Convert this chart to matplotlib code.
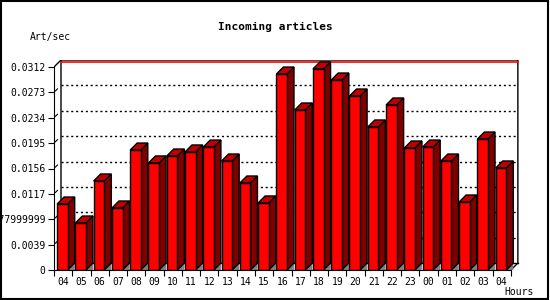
import matplotlib
matplotlib.use("Agg")
import matplotlib.pyplot as plt
from matplotlib.patches import Polygon, Rectangle

# hours on the x axis and the rate per hour
hours = ["04", "05", "06", "07", "08", "09", "10", "11", "12", "13", "14", "15",
         "16", "17", "18", "19", "20", "21", "22", "23", "00", "01", "02", "03", "04"]
rates = [0.01014, 0.00722, 0.01368, 0.00953, 0.01844, 0.01645, 0.01752, 0.01814,
         0.01890, 0.01675, 0.01337, 0.01030, 0.03012, 0.02459, 0.03090, 0.02920,
         0.02674, 0.02198, 0.02536, 0.01875, 0.01890, 0.01675, 0.01045, 0.02013,
         0.01568]
yticks = [0, 0.0039, 0.0078, 0.0117, 0.0156, 0.0195, 0.0234, 0.0273, 0.0312]
ytick_labels = ["0", "0.0039", "0.0077999999", "0.0117", "0.0156", "0.0195",
                "0.0234", "0.0273", "0.0312"]
ymax = 0.0312

mono = "DejaVu Sans Mono"
fig = plt.figure(figsize=(5.5, 3), dpi=100)
fig.patch.set_facecolor("white")

n = len(rates)
# axes: front plane, 0 at y=270px, 0.0312 at y=67px
ax = fig.add_axes([54 / 550, 30 / 300, 466 / 550, 210 / 300])
ax.set_xlim(0, n + 0.5)
ax.set_ylim(0, ymax * 210 / 203)
ax.set_facecolor("none")

px_x = (n + 0.5) / 466.0          # data units per pixel
px_y = (ymax * 210 / 203) / 210.0
dx, dy = 7 * px_x, 7 * px_y       # 3d depth

# back plane frame
top = ymax + dy
ax.plot([dx, dx, n + dx, n + dx, n], [dy, top, top, dy, 0], color="black", lw=1, zorder=1)
ax.plot([0, dx], [ymax, top], color="black", lw=1, zorder=1)
ax.plot([dx, n + dx], [dy, dy], color="black", lw=1, zorder=1)
ax.plot([dx, n + dx], [top - 1.5 * px_y] * 2, color="red", lw=1.2, zorder=1)

# dotted grid on the back plane + small diagonal ticks
for v in yticks[1:-1]:
    ax.plot([dx, n + dx], [v + dy, v + dy], color="black", lw=1,
            linestyle=(0, (1.5, 2)), zorder=1)
    ax.plot([0.2 * dx, 0.5 * dx], [v + 0.2 * dy, v + 0.5 * dy], color="black", lw=0.8, zorder=1)

# bars
w = 0.58
for i, v in enumerate(rates):
    x0 = i + 0.17
    x1 = x0 + w
    ax.add_patch(Polygon([(x1, 0), (x1 + dx, dy), (x1 + dx, 0)], closed=True,
                         facecolor="#808080", edgecolor="none", zorder=2))
    ax.add_patch(Polygon([(x1, 0), (x1 + dx, dy), (x1 + dx, v + dy), (x1, v)], closed=True,
                         facecolor="#800000", edgecolor="black", lw=1, zorder=3))
    ax.add_patch(Polygon([(x0, v), (x0 + dx, v + dy), (x1 + dx, v + dy), (x1, v)], closed=True,
                         facecolor="#C00000", edgecolor="black", lw=1, zorder=3))
    ax.add_patch(Rectangle((x0, 0), w, v, facecolor="#FF0000", edgecolor="black",
                           lw=1, zorder=4))

# front axes
for s in ["top", "right"]:
    ax.spines[s].set_visible(False)
ax.spines["left"].set_bounds(0, ymax)
ax.spines["bottom"].set_bounds(0, n)
ax.spines["left"].set_zorder(5)
ax.spines["bottom"].set_zorder(5)

ax.set_yticks(yticks)
ax.set_yticklabels(ytick_labels, fontfamily=mono, fontsize=7)
ax.set_xticks(range(n + 1))
ax.set_xticklabels([])
ax.set_xticks([i + 0.5 for i in range(n)], minor=True)
ax.set_xticklabels(hours, minor=True, fontfamily=mono, fontsize=7)
ax.tick_params(axis="x", which="minor", length=0, pad=5)
ax.tick_params(axis="x", which="major", length=4, direction="out")
ax.tick_params(axis="y", length=4, direction="out", pad=2)

fig.text(0.5, 1 - 27 / 300, "Incoming articles", ha="center", va="center",
         fontfamily=mono, fontsize=8, fontweight="bold")
fig.text(30 / 550, 1 - 37 / 300, "Art/sec", ha="left", va="center",
         fontfamily=mono, fontsize=7)
fig.text(504 / 550, 1 - 292 / 300, "Hours", ha="left", va="center",
         fontfamily=mono, fontsize=7)

# image border
fig.add_artist(Rectangle((0.001, 0.003), 0.996, 0.994, transform=fig.transFigure,
                         fill=False, edgecolor="black", lw=1.5))

fig.savefig("out.png", dpi=100)
